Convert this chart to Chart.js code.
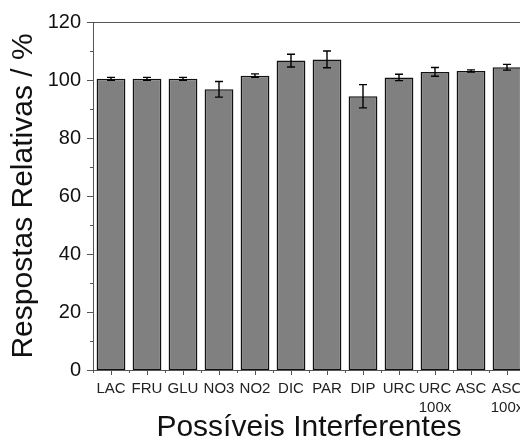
<!DOCTYPE html>
<html>
<head>
<meta charset="utf-8">
<script src="https://cdn.jsdelivr.net/npm/chart.js@4"></script>
<style>
  html, body { margin: 0; padding: 0; overflow: hidden; background: #fff; }
  #wrap { width: 530px; height: 443px; }
</style>
</head>
<body>
<div id="wrap"><canvas id="grafico"></canvas></div>
<script>
const categorias = ["LAC", "FRU", "GLU", "NO3", "NO2", "DIC", "PAR", "DIP", "URC", ["URC", "100x"], "ASC", ["ASC", "100x"]];
const respostas = [100.4, 100.4, 100.4, 96.8, 101.5, 106.7, 107.1, 94.4, 100.9, 102.8, 103.1, 104.4];
const erros = [0.5, 0.5, 0.5, 2.7, 0.6, 2.2, 2.9, 4.0, 1.1, 1.5, 0.4, 1.0];
const yTicks = [0, 20, 40, 60, 80, 100, 120];
const yMinor = [10, 30, 50, 70, 90, 110];

const eixoCor = "#555";

// barras de erro + ticks menores + borda superior
const extras = {
    id: "extras",
    afterDatasetsDraw(chart) {
        const ctx = chart.ctx;
        const y = chart.scales.y;
        const x = chart.scales.x;
        const area = chart.chartArea;
        const meta = chart.getDatasetMeta(0);

        ctx.save();
        ctx.strokeStyle = "#000";
        ctx.lineWidth = 1.4;
        meta.data.forEach((bar, i) => {
            const top = y.getPixelForValue(respostas[i] + erros[i]);
            const bot = y.getPixelForValue(respostas[i] - erros[i]);
            ctx.beginPath();
            ctx.moveTo(bar.x, top); ctx.lineTo(bar.x, bot);
            ctx.moveTo(bar.x - 4, top); ctx.lineTo(bar.x + 4, top);
            ctx.moveTo(bar.x - 4, bot); ctx.lineTo(bar.x + 4, bot);
            ctx.stroke();
        });

        ctx.strokeStyle = eixoCor;
        ctx.lineWidth = 1;
        ctx.beginPath();
        ctx.moveTo(area.left, area.top + 0.5);
        ctx.lineTo(area.right, area.top + 0.5);
        yTicks.forEach(v => {
            const p = Math.round(y.getPixelForValue(v)) + 0.5;
            ctx.moveTo(area.left, p); ctx.lineTo(area.left - 6, p);
        });
        yMinor.forEach(v => {
            const p = Math.round(y.getPixelForValue(v)) + 0.5;
            ctx.moveTo(area.left, p); ctx.lineTo(area.left - 3, p);
        });
        categorias.forEach((c, i) => {
            const p = Math.round(x.getPixelForValue(i)) + 0.5;
            ctx.moveTo(p, area.bottom); ctx.lineTo(p, area.bottom + 5);
            const b = Math.round(x.getPixelForValue(i - 0.5)) + 0.5;
            ctx.moveTo(b, area.bottom); ctx.lineTo(b, area.bottom + 3);
        });
        ctx.stroke();
        ctx.restore();
    }
};

new Chart(document.getElementById("grafico"), {
    type: "bar",
    data: {
        labels: categorias,
        datasets: [{
            data: respostas,
            backgroundColor: "#808080",
            borderColor: "#111",
            borderWidth: 1.5,
            borderSkipped: false,
            barPercentage: 0.8,
            categoryPercentage: 1
        }]
    },
    options: {
        responsive: true,
        maintainAspectRatio: false,
        animation: false,
        layout: { padding: { top: 22, right: 5, left: 0, bottom: 0 } },
        plugins: { legend: { display: false }, tooltip: { enabled: false } },
        scales: {
            x: {
                afterFit: s => { s.height = 73; s.paddingLeft = 0; s.paddingRight = 0; },
                grid: { display: false, drawTicks: false },
                border: { color: eixoCor, width: 1 },
                ticks: {
                    autoSkip: false,
                    maxRotation: 0,
                    minRotation: 0,
                    padding: 9,
                    color: "#222",
                    font: { family: "Liberation Sans, Arial", size: 15, lineHeight: 1.27 }
                },
                title: {
                    display: true,
                    text: "Possíveis Interferentes",
                    color: "#111",
                    padding: 0,
                    font: { family: "Liberation Sans, Arial", size: 30, lineHeight: 1 }
                }
            },
            y: {
                min: 0,
                max: 120,
                afterFit: s => { s.width = 93; s.paddingTop = 0; s.paddingBottom = 0; },
                afterBuildTicks: s => { s.ticks = yTicks.map(v => ({ value: v })); },
                grid: { display: false, drawTicks: false },
                border: { color: eixoCor, width: 1 },
                ticks: {
                    padding: 12,
                    color: "#111",
                    font: { family: "Liberation Sans, Arial", size: 20 }
                },
                title: {
                    display: true,
                    text: "Respostas Relativas / %",
                    color: "#111",
                    padding: { top: 9, bottom: 0 },
                    font: { family: "Liberation Sans, Arial", size: 30, lineHeight: 1 }
                }
            }
        }
    },
    plugins: [extras]
});
</script>
</body>
</html>
